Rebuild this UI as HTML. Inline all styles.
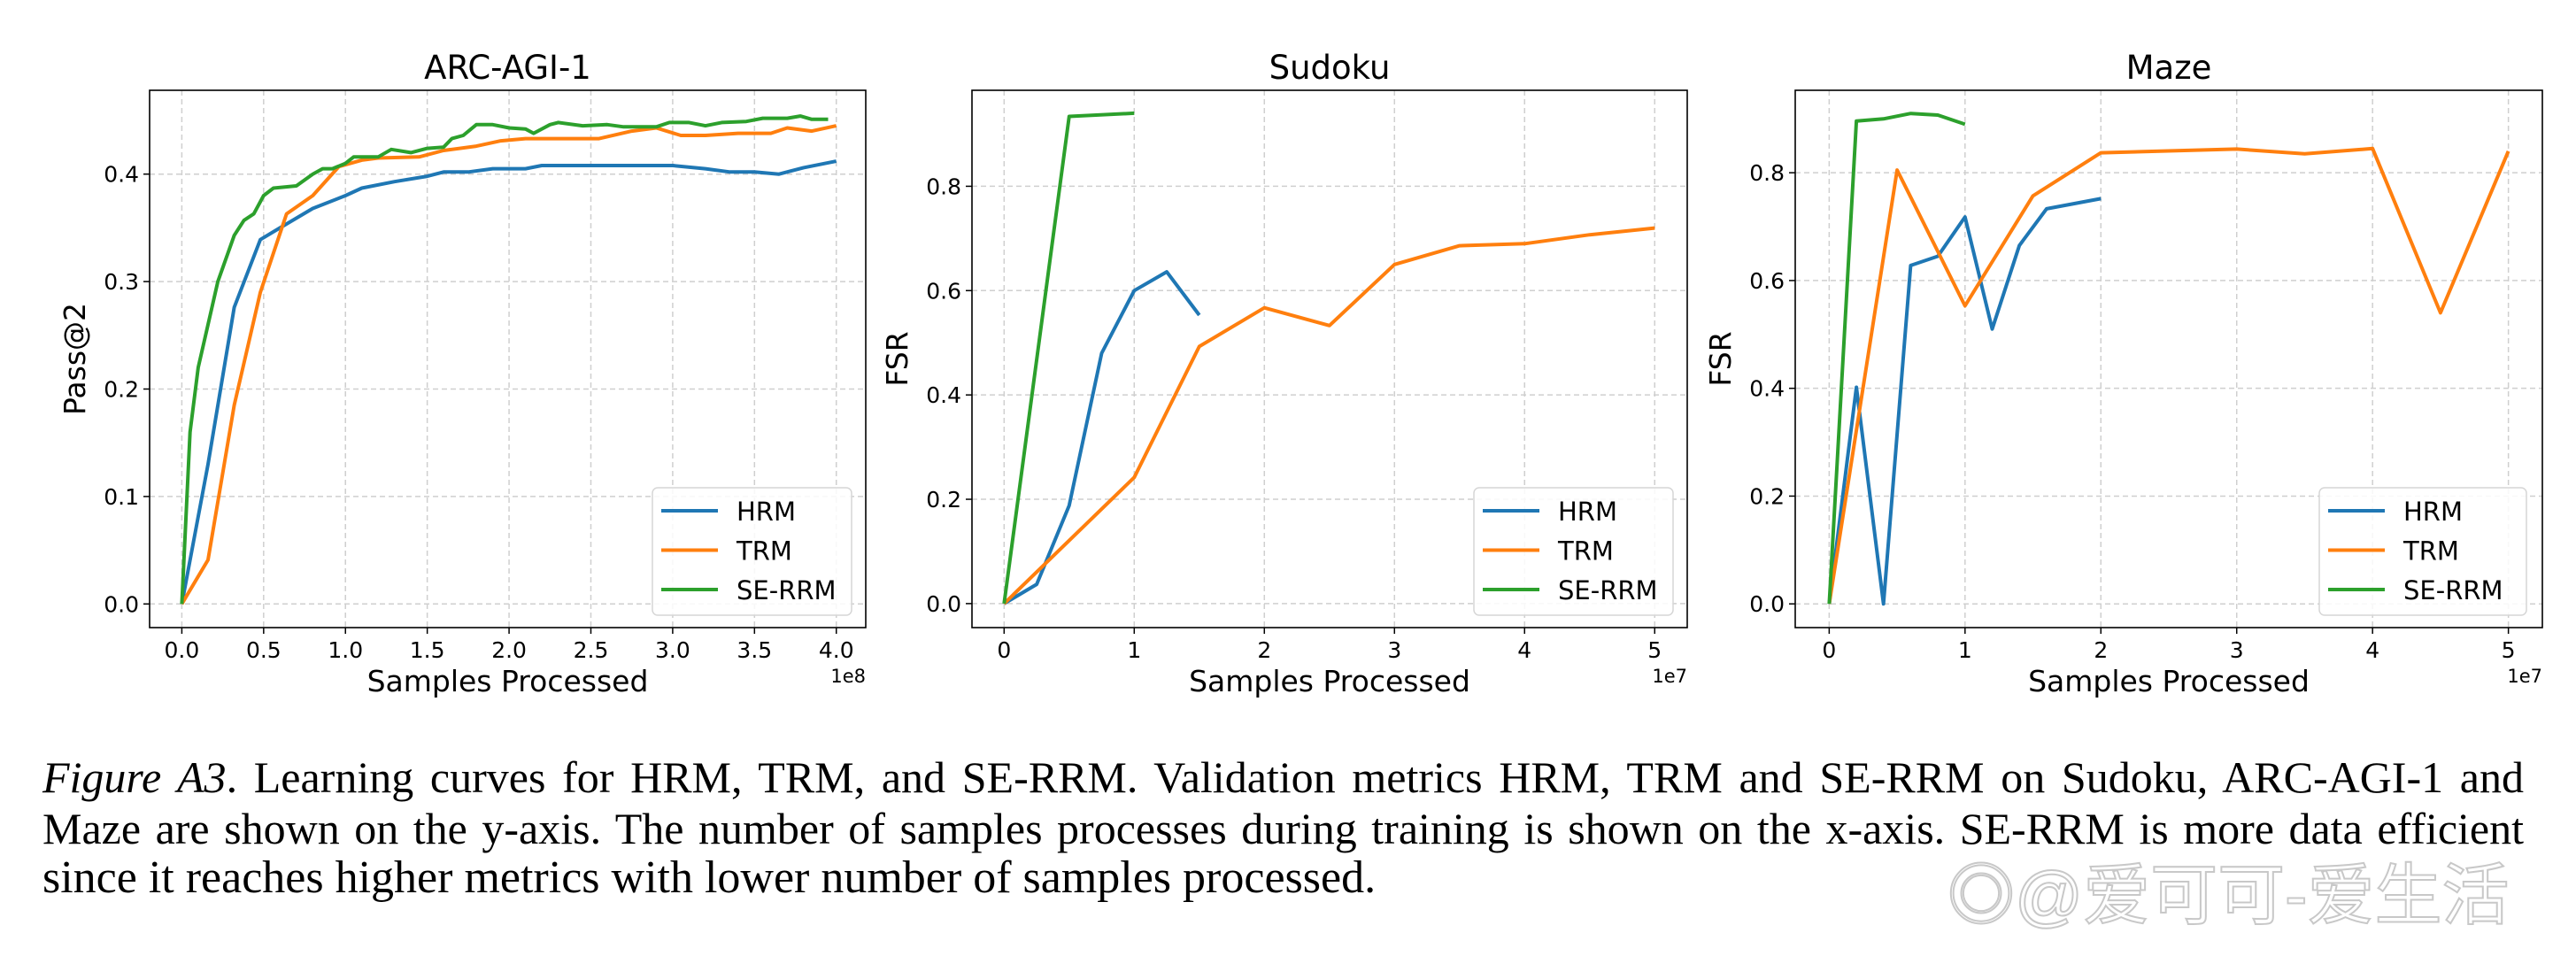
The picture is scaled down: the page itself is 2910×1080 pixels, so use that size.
<!DOCTYPE html>
<html><head><meta charset="utf-8">
<style>
html,body{margin:0;padding:0;background:#fff;}
body{width:2910px;height:1080px;position:relative;overflow:hidden;}
svg{position:absolute;left:0;top:0;}
.cap{position:absolute;left:48px;width:2803px;font-family:"Liberation Serif",serif;font-size:52px;color:#000;white-space:nowrap;}
.j{text-align:justify;text-align-last:justify;white-space:normal;font-size:50px;}
.wm{position:absolute;left:2200px;top:950px;font-family:"Liberation Sans","Noto Sans CJK SC",sans-serif;font-size:76px;color:#fff;-webkit-text-stroke:2px #c8c8c8;white-space:nowrap;}
</style></head>
<body>
<svg id="chart" width="2910" height="1080" xmlns="http://www.w3.org/2000/svg" font-family="DejaVu Sans, Liberation Sans, sans-serif"></svg>
<div class="cap j" style="top:849px"><i>Figure A3</i>. Learning curves for HRM, TRM, and SE-RRM. Validation metrics HRM, TRM and SE-RRM on Sudoku, ARC-AGI-1 and</div>
<div class="cap j" style="top:907px">Maze are shown on the y-axis. The number of samples processes during training is shown on the x-axis. SE-RRM is more data efficient</div>
<div class="cap" style="top:962px">since it reaches higher metrics with lower number of samples processed.</div>
<div class="wm">◎@爱可可-爱生活</div>
<script>
// ARC-AGI-1 (x in 1e8)
const arcHrmX=[0,0.16,0.32,0.48,0.6,0.8,1.0,1.1,1.3,1.5,1.6,1.75,1.9,2.1,2.2,2.6,3.0,3.2,3.35,3.5,3.65,3.8,4.0];
const arcHrmY=[0,0.13,0.276,0.339,0.35,0.368,0.38,0.387,0.393,0.398,0.402,0.402,0.405,0.405,0.408,0.408,0.408,0.405,0.402,0.402,0.4,0.406,0.412];
const arcTrmX=[0,0.16,0.32,0.48,0.64,0.8,0.96,1.1,1.2,1.45,1.6,1.8,1.95,2.1,2.55,2.75,2.9,3.05,3.2,3.4,3.6,3.7,3.85,4.0];
const arcTrmY=[0,0.041,0.185,0.29,0.363,0.38,0.407,0.413,0.415,0.416,0.422,0.426,0.431,0.433,0.433,0.44,0.443,0.436,0.436,0.438,0.438,0.443,0.44,0.445];
const arcSeX=[0,0.05,0.1,0.16,0.22,0.32,0.38,0.44,0.5,0.56,0.7,0.8,0.86,0.92,1.0,1.05,1.2,1.28,1.4,1.5,1.6,1.65,1.72,1.8,1.9,2.0,2.1,2.15,2.25,2.3,2.45,2.6,2.7,2.9,2.98,3.1,3.2,3.3,3.45,3.55,3.7,3.78,3.85,3.95];
const arcSeY=[0,0.16,0.22,0.26,0.3,0.343,0.357,0.363,0.38,0.387,0.389,0.4,0.405,0.405,0.41,0.416,0.416,0.423,0.42,0.424,0.425,0.433,0.436,0.446,0.446,0.443,0.442,0.438,0.446,0.448,0.445,0.446,0.444,0.444,0.448,0.448,0.445,0.448,0.449,0.452,0.452,0.454,0.451,0.451];
// Sudoku (x in 1e7)
const sudHrmX=[0,0.25,0.5,0.75,1.0,1.25,1.5];
const sudHrmY=[0,0.037,0.188,0.48,0.6,0.636,0.553];
const sudTrmX=[0,1.0,1.5,2,2.5,3,3.5,4,4.5,5];
const sudTrmY=[0,0.242,0.493,0.567,0.533,0.65,0.686,0.69,0.707,0.72];
const sudSeX=[0,0.5,1.0];
const sudSeY=[0,0.934,0.94];
// Maze (x in 1e7)
const mazHrmX=[0,0.2,0.4,0.6,0.8,1.0,1.2,1.4,1.6,2.0];
const mazHrmY=[0,0.402,0,0.628,0.645,0.718,0.51,0.665,0.733,0.752];
const mazTrmX=[0,0.5,1.0,1.5,2.0,3.0,3.5,4.0,4.5,5.0];
const mazTrmY=[0,0.805,0.553,0.757,0.837,0.844,0.835,0.845,0.54,0.84];
const mazSeX=[0,0.2,0.4,0.6,0.8,1.0];
const mazSeY=[0,0.896,0.9,0.91,0.907,0.89];
// ticks
const arcXTicks=["0.0","0.5","1.0","1.5","2.0","2.5","3.0","3.5","4.0"];
const arcYTicks=["0.0","0.1","0.2","0.3","0.4"];
const intXTicks=["0","1","2","3","4","5"];
const fsrYTicks=["0.0","0.2","0.4","0.6","0.8"];
const seriesNames=["HRM","TRM","SE-RRM"];

const svg=document.getElementById('chart');
const NS='http://www.w3.org/2000/svg';
const COLORS=['#1f77b4','#ff7f0e','#2ca02c'];
function mk(tag,attrs,parent){const e=document.createElementNS(NS,tag);for(const k in attrs)e.setAttribute(k,attrs[k]);(parent||svg).appendChild(e);return e;}

function panel(cfg){
  const g=mk('g',{});
  
  
  const L=cfg.L,R=cfg.R,T=102,B=709;
  const sx=v=>L+(v-cfg.x0)/(cfg.x1-cfg.x0)*(R-L);
  const sy=v=>B-(v-cfg.y0)/(cfg.y1-cfg.y0)*(B-T);
  cfg.xt.forEach(t=>{const x=sx(parseFloat(t));
    const gl=mk('line',{x1:x,x2:x,y1:T,y2:B,stroke:'#cfcfcf','stroke-width':1.5,'stroke-dasharray':'6 4'},g);
    
    mk('line',{x1:x,x2:x,y1:B,y2:B+7,stroke:'#000','stroke-width':1.5},g);
    const tx=mk('text',{x:x,y:743,'font-size':25,'text-anchor':'middle',fill:'#000'},g);tx.textContent=t;
    });
  cfg.yt.forEach(t=>{const y=sy(parseFloat(t));
    const gl=mk('line',{x1:L,x2:R,y1:y,y2:y,stroke:'#cfcfcf','stroke-width':1.5,'stroke-dasharray':'6 4'},g);
    
    mk('line',{x1:L-7,x2:L,y1:y,y2:y,stroke:'#000','stroke-width':1.5},g);
    const tx=mk('text',{x:L-12,y:y+9,'font-size':25,'text-anchor':'end',fill:'#000'},g);tx.textContent=t;
    });
  cfg.series.forEach((s,i)=>{
    const pts=s[0].map((xv,j)=>sx(xv).toFixed(1)+','+sy(s[1][j]).toFixed(1)).join(' ');
    const pl=mk('polyline',{points:pts,fill:'none',stroke:COLORS[i],'stroke-width':4,'stroke-linejoin':'round'},g);
    
    
  });
  const fr=mk('rect',{x:L,y:T,width:R-L,height:B-T,fill:'none',stroke:'#000','stroke-width':1.6},g);
  
  const ti=mk('text',{x:(L+R)/2,y:89,'font-size':37,'text-anchor':'middle',fill:'#000'},g);ti.textContent=cfg.title;
  
  const xl=mk('text',{x:(L+R)/2,y:781,'font-size':33,'text-anchor':'middle',fill:'#000'},g);xl.textContent='Samples Processed';
  
  const ex=mk('text',{x:R,y:771,'font-size':21,'text-anchor':'end',fill:'#000'},g);ex.textContent=cfg.exp;
  
  const yl=mk('text',{x:cfg.ylx,y:(T+B)/2,'font-size':33,'text-anchor':'middle',fill:'#000',transform:'rotate(-90 '+cfg.ylx+' '+(T+B)/2+')'},g);yl.textContent=cfg.ylabel;
  
  const lg=mk('g',{},g);
  
  mk('rect',{x:cfg.lgx,y:551,width:cfg.lgw,height:144,rx:6,fill:'#fff','fill-opacity':0.85,stroke:'#d6d6d6','stroke-width':1.5},lg);
  seriesNames.forEach((n,i)=>{const y=577+i*44.5;
    const e=mk('g',{},lg);
    
    mk('line',{x1:cfg.lgx+10,x2:cfg.lgx+74,y1:y,y2:y,stroke:COLORS[i],'stroke-width':4},e);
    const t=mk('text',{x:cfg.lgx+95,y:y+11,'font-size':29,fill:'#000'},e);t.textContent=n;});
}

panel({name:'arc-agi-1',title:'ARC-AGI-1',ylabel:'Pass@2',exp:'1e8',L:169,R:978,x0:-0.197,x1:4.18,y0:-0.022,y1:0.478,
  xt:arcXTicks,yt:arcYTicks,ylx:96,lgx:737,lgw:225,
  series:[[arcHrmX,arcHrmY],[arcTrmX,arcTrmY],[arcSeX,arcSeY]]});
panel({name:'sudoku',title:'Sudoku',ylabel:'FSR',exp:'1e7',L:1098,R:1906,x0:-0.247,x1:5.25,y0:-0.046,y1:0.984,
  xt:intXTicks,yt:fsrYTicks,ylx:1025,lgx:1665,lgw:225,
  series:[[sudHrmX,sudHrmY],[sudTrmX,sudTrmY],[sudSeX,sudSeY]]});
panel({name:'maze',title:'Maze',ylabel:'FSR',exp:'1e7',L:2028,R:2872,x0:-0.25,x1:5.25,y0:-0.044,y1:0.953,
  xt:intXTicks,yt:fsrYTicks,ylx:1955,lgx:2620,lgw:234,
  series:[[mazHrmX,mazHrmY],[mazTrmX,mazTrmY],[mazSeX,mazSeY]]});
</script>
</body></html>
